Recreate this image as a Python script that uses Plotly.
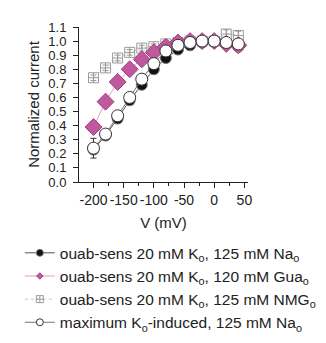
import plotly.graph_objects as go

voltage = [-200, -180, -160, -140, -120, -100, -80, -60, -40, -20, 0, 20, 40]
na_ouab = [0.23, 0.33, 0.45, 0.58, 0.69, 0.80, 0.88, 0.94, 0.97, 0.99, 1.00, 0.98, 0.96]
gua_ouab = [0.39, 0.57, 0.71, 0.80, 0.87, 0.92, 0.96, 0.99, 1.00, 1.00, 1.00, 0.98, 0.97]
nmg_ouab = [0.74, 0.81, 0.88, 0.92, 0.95, 0.96, 0.98, 0.99, 1.00, 1.00, 1.00, 1.05, 1.04]
nmg_err = [0.02, 0.02, 0.02, 0.02, 0.02, 0.02, 0.02, 0.02, 0.02, 0.02, 0.0, 0.03, 0.03]
max_ko = [0.24, 0.34, 0.47, 0.60, 0.73, 0.84, 0.93, 0.97, 0.99, 1.00, 1.00, 0.99, 0.98]
max_err = [0.07, 0.02, 0.02, 0.03, 0.03, 0.02, 0.02, 0.01, 0.01, 0.01, 0.0, 0.01, 0.01]

names = [
    "ouab-sens 20 mM K<sub>o</sub>, 125 mM Na<sub>o</sub>",
    "ouab-sens 20 mM K<sub>o</sub>, 120 mM Gua<sub>o</sub>",
    "ouab-sens 20 mM K<sub>o</sub>, 125 mM NMG<sub>o</sub>",
    "maximum K<sub>o</sub>-induced, 125 mM Na<sub>o</sub>",
]

styles = {
    "na": dict(line=dict(color="#555555", width=1),
               marker=dict(symbol="circle", color="#111111", line=dict(color="#777777", width=1))),
    "gua": dict(line=dict(color="#e89ac8", width=1),
                marker=dict(symbol="diamond", color="#c0589e", line=dict(color="#a04080", width=1))),
    "nmg": dict(line=dict(color="#c8c8c8", width=1, dash="dot"),
                marker=dict(symbol="square-cross-open", color="#9a9a9a", line=dict(width=1))),
    "max": dict(line=dict(color="#777777", width=1),
                marker=dict(symbol="circle", color="white", line=dict(color="#333333", width=1))),
}
data_sizes = {"na": 11, "gua": 13, "nmg": 10, "max": 12}
legend_sizes = {"na": 7, "gua": 5, "nmg": 7, "max": 7}

fig = go.Figure()

def add_data(key, y, err=None, errcolor=None):
    st = styles[key]
    m = dict(st["marker"]); m["size"] = data_sizes[key]
    kw = {}
    if err is not None:
        kw["error_y"] = dict(type="data", array=err, color=errcolor, thickness=1, width=3)
    fig.add_trace(go.Scatter(x=voltage, y=y, mode="lines+markers", showlegend=False,
                             line=st["line"], marker=m, hoverinfo="x+y", **kw))

add_data("nmg", nmg_ouab, nmg_err, "#9a9a9a")
add_data("na", na_ouab)
add_data("gua", gua_ouab)
add_data("max", max_ko, max_err, "#333333")

for key, name in zip(["na", "gua", "nmg", "max"], names):
    st = styles[key]
    m = dict(st["marker"]); m["size"] = legend_sizes[key]
    fig.add_trace(go.Scatter(x=[None], y=[None], mode="lines+markers", name=name,
                             line=st["line"], marker=m, showlegend=True))

font = "Liberation Sans, Arial, sans-serif"
fig.update_layout(
    width=326, height=343,
    margin=dict(l=66, r=86, t=15, b=161),
    plot_bgcolor="white", paper_bgcolor="white",
    font=dict(family=font, size=14, color="#222222"),
    showlegend=True,
    legend=dict(
        x=-0.35, y=-0.35, xanchor="left", yanchor="top",
        font=dict(family=font, size=15.5, color="#222222"),
        bgcolor="rgba(0,0,0,0)", tracegroupgap=0, itemwidth=30,
    ),
    xaxis=dict(
        range=[-224, 56], showgrid=False, zeroline=False,
        showline=True, linecolor="#222222", linewidth=1,
        ticks="outside", ticklen=5, tickcolor="#222222",
        tickvals=[-200, -150, -100, -50, 0, 50],
        ticktext=["-200", "-150", "-100", "-50", "0", "50"],
        tickangle=0,
        minor=dict(tickvals=[-175, -125, -75, -25, 25], ticks="outside", ticklen=3, tickcolor="#222222"),
        title=dict(text="V (mV)", standoff=10, font=dict(size=15)),
        tickfont=dict(size=14),
    ),
    yaxis=dict(
        range=[0, 1.1], showgrid=False, zeroline=False,
        showline=True, linecolor="#222222", linewidth=1,
        ticks="outside", ticklen=5, tickcolor="#222222",
        tickvals=[i / 10 for i in range(12)],
        ticktext=[f"{i / 10:.1f}" for i in range(12)],
        ticklabelstandoff=4,
        title=dict(text="Normalized current", standoff=5, font=dict(size=15)),
        tickfont=dict(size=13),
    ),
)

fig.write_html("out.html")
